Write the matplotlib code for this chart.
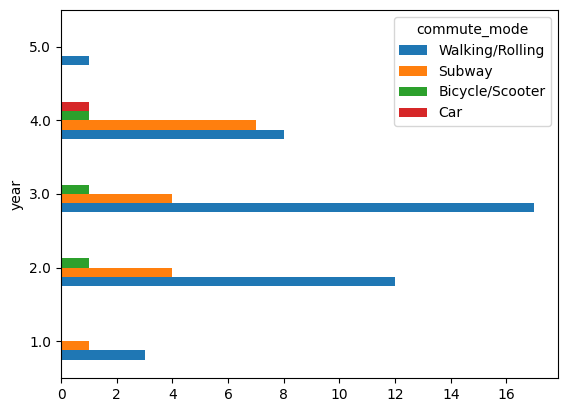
import numpy as np
import pandas as pd
import matplotlib
matplotlib.use('Agg')
import matplotlib.pyplot as plt

years = [1.0, 2.0, 3.0, 4.0, 5.0]
walking = [3, 12, 17, 8, 1]
subway = [1, 4, 4, 7, 0]
bicycle = [0, 1, 1, 1, 0]
car = [0, 0, 0, 1, 0]

df = pd.DataFrame({'Walking/Rolling': walking,
                   'Subway': subway,
                   'Bicycle/Scooter': bicycle,
                   'Car': car},
                  index=pd.Index(years, name='year'))
df.columns.name = 'commute_mode'

fig, ax = plt.subplots(figsize=(5.67, 4.13), dpi=100)
df.plot.barh(ax=ax)
fig.subplots_adjust(left=61/567, right=558/567, top=1-10/413, bottom=1-378/413)

fig.savefig('out.png')
